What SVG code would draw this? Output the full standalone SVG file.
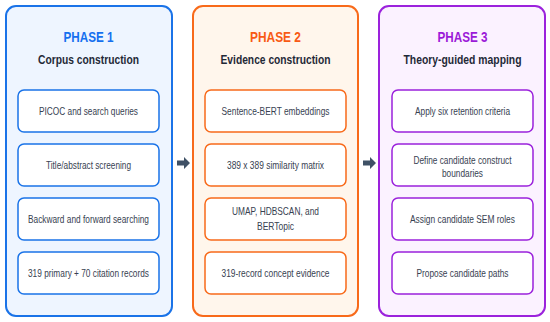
<svg xmlns="http://www.w3.org/2000/svg" width="550" height="322" viewBox="0 0 550 322">
<defs>
<style>
.panel{stroke-width:2}
.box{fill:#ffffff;stroke-width:1.5}
.p1{fill:#eef5ff;stroke:#1a73e8}
.p2{fill:#fff6ec;stroke:#f86a1a}
.p3{fill:#fbf2ff;stroke:#9b22dc}
.b1{stroke:#1a73e8}.b2{stroke:#f86a1a}.b3{stroke:#9b22dc}
.ph{font-family:"Liberation Sans",Arial,sans-serif;font-size:15.5px;font-weight:bold;text-anchor:middle}
.sub{font-family:"Liberation Sans",Arial,sans-serif;font-size:13px;font-weight:bold;text-anchor:middle;fill:#1f2937}
.t{font-family:"Liberation Sans",Arial,sans-serif;font-size:10.5px;text-anchor:middle;fill:#374151}
.arr{fill:#3f5166}
</style>
</defs>
<rect width="550" height="322" fill="#ffffff"/>
<g id="phase1">
<rect class="panel p1" x="6" y="6" width="166" height="310" rx="10"/>
<text class="ph" x="88.5" y="41.5" fill="#1570ef" textLength="50" lengthAdjust="spacingAndGlyphs">PHASE 1</text>
<text class="sub" x="88.5" y="64" textLength="101" lengthAdjust="spacingAndGlyphs">Corpus construction</text>
<g id="p1n1"><rect class="box b1" x="18" y="90" width="141" height="42" rx="6"/><text class="t" x="88.5" y="115" textLength="99" lengthAdjust="spacingAndGlyphs">PICOC and search queries</text></g>
<g id="p1n2"><rect class="box b1" x="18" y="144" width="141" height="42" rx="6"/><text class="t" x="88.5" y="169" textLength="85" lengthAdjust="spacingAndGlyphs">Title/abstract screening</text></g>
<g id="p1n3"><rect class="box b1" x="18" y="198" width="141" height="42" rx="6"/><text class="t" x="88.5" y="223" textLength="121" lengthAdjust="spacingAndGlyphs">Backward and forward searching</text></g>
<g id="p1n4"><rect class="box b1" x="18" y="252" width="141" height="42" rx="6"/><text class="t" x="88.5" y="277" textLength="121" lengthAdjust="spacingAndGlyphs">319 primary + 70 citation records</text></g>
</g>
<g id="phase2">
<rect class="panel p2" x="193" y="6" width="165" height="310" rx="10"/>
<text class="ph" x="275.5" y="41.5" fill="#f85a14" textLength="51" lengthAdjust="spacingAndGlyphs">PHASE 2</text>
<text class="sub" x="275.5" y="64" textLength="110" lengthAdjust="spacingAndGlyphs">Evidence construction</text>
<g id="p2n1"><rect class="box b2" x="205" y="90" width="141" height="42" rx="6"/><text class="t" x="275.5" y="115" textLength="108" lengthAdjust="spacingAndGlyphs">Sentence-BERT embeddings</text></g>
<g id="p2n2"><rect class="box b2" x="205" y="144" width="141" height="42" rx="6"/><text class="t" x="275.5" y="169" textLength="97" lengthAdjust="spacingAndGlyphs">389 x 389 similarity matrix</text></g>
<g id="p2n3"><rect class="box b2" x="205" y="198" width="141" height="42" rx="6"/><text class="t" x="275.5" y="215" textLength="87" lengthAdjust="spacingAndGlyphs">UMAP, HDBSCAN, and</text><text class="t" x="275.5" y="230" textLength="37" lengthAdjust="spacingAndGlyphs">BERTopic</text></g>
<g id="p2n4"><rect class="box b2" x="205" y="252" width="141" height="42" rx="6"/><text class="t" x="275.5" y="277" textLength="108" lengthAdjust="spacingAndGlyphs">319-record concept evidence</text></g>
</g>
<g id="phase3">
<rect class="panel p3" x="379" y="6" width="166" height="310" rx="10"/>
<text class="ph" x="462.5" y="41.5" fill="#9b1bd8" textLength="50" lengthAdjust="spacingAndGlyphs">PHASE 3</text>
<text class="sub" x="462.5" y="64" textLength="118" lengthAdjust="spacingAndGlyphs">Theory-guided mapping</text>
<g id="p3n1"><rect class="box b3" x="392" y="90" width="141" height="42" rx="6"/><text class="t" x="462.5" y="115" textLength="95" lengthAdjust="spacingAndGlyphs">Apply six retention criteria</text></g>
<g id="p3n2"><rect class="box b3" x="392" y="144" width="141" height="42" rx="6"/><text class="t" x="462.5" y="164" textLength="98" lengthAdjust="spacingAndGlyphs">Define candidate construct</text><text class="t" x="462.5" y="176.5" textLength="41" lengthAdjust="spacingAndGlyphs">boundaries</text></g>
<g id="p3n3"><rect class="box b3" x="392" y="198" width="141" height="42" rx="6"/><text class="t" x="462.5" y="223" textLength="105" lengthAdjust="spacingAndGlyphs">Assign candidate SEM roles</text></g>
<g id="p3n4"><rect class="box b3" x="392" y="252" width="141" height="42" rx="6"/><text class="t" x="462.5" y="277" textLength="92" lengthAdjust="spacingAndGlyphs">Propose candidate paths</text></g>
</g>
<g id="connectors">
<path class="arr" d="M177,160.5 H184 V157 L190,163 L184,169 V165.5 H177 Z"/>
<path class="arr" d="M363,160.5 H370 V157 L376,163 L370,169 V165.5 H363 Z"/>
</g>
</svg>
